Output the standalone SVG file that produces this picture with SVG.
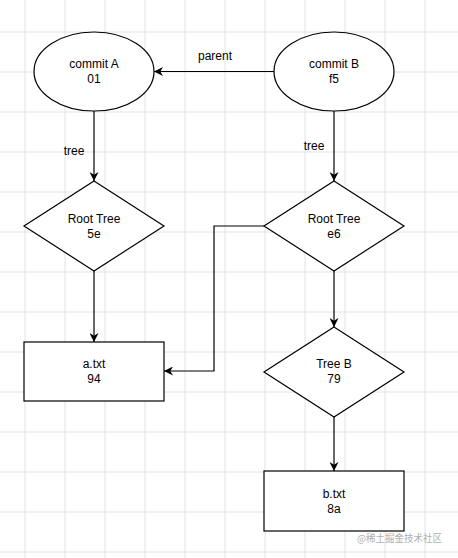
<svg xmlns="http://www.w3.org/2000/svg" width="458" height="558" viewBox="0 0 458 558">
<defs>
<style>
.grid line{stroke:#e2e2e2;stroke-width:1}
.node{fill:#fff;stroke:#000;stroke-width:1.2}
.lbl{font-family:"Liberation Sans",Arial,sans-serif;font-size:12px;fill:#000;text-anchor:middle}
.edge{fill:none;stroke:#000;stroke-width:1.2}
.wm{font-family:"Noto Sans CJK SC","Liberation Sans",sans-serif;font-size:10px;fill:#b0b0b0}
</style>
<marker id="arr" viewBox="0 0 10 10" refX="10" refY="5" markerWidth="9" markerHeight="9" markerUnits="userSpaceOnUse" orient="auto">
<path d="M0,0 L10,5 L0,10 L3,5 Z" fill="#000"/>
</marker>
</defs>
<rect width="458" height="558" fill="#fff"/>
<g class="grid">
<line x1="25" y1="0" x2="25" y2="558"/><line x1="65" y1="0" x2="65" y2="558"/><line x1="105" y1="0" x2="105" y2="558"/><line x1="145" y1="0" x2="145" y2="558"/><line x1="185" y1="0" x2="185" y2="558"/><line x1="225" y1="0" x2="225" y2="558"/><line x1="265" y1="0" x2="265" y2="558"/><line x1="305" y1="0" x2="305" y2="558"/><line x1="345" y1="0" x2="345" y2="558"/><line x1="385" y1="0" x2="385" y2="558"/><line x1="425" y1="0" x2="425" y2="558"/>
<line x1="0" y1="32" x2="458" y2="32"/><line x1="0" y1="72" x2="458" y2="72"/><line x1="0" y1="112" x2="458" y2="112"/><line x1="0" y1="152" x2="458" y2="152"/><line x1="0" y1="192" x2="458" y2="192"/><line x1="0" y1="232" x2="458" y2="232"/><line x1="0" y1="272" x2="458" y2="272"/><line x1="0" y1="312" x2="458" y2="312"/><line x1="0" y1="352" x2="458" y2="352"/><line x1="0" y1="392" x2="458" y2="392"/><line x1="0" y1="432" x2="458" y2="432"/><line x1="0" y1="472" x2="458" y2="472"/><line x1="0" y1="512" x2="458" y2="512"/><line x1="0" y1="552" x2="458" y2="552"/>
</g>
<g id="connectors">
<path class="edge" d="M274,71.5 L154,71.5" marker-end="url(#arr)"/>
<text class="lbl" x="215" y="60">parent</text>
<path class="edge" d="M94,111 L94,181" marker-end="url(#arr)"/>
<text class="lbl" x="74" y="155">tree</text>
<path class="edge" d="M334,111 L334,181" marker-end="url(#arr)"/>
<text class="lbl" x="314" y="150">tree</text>
<path class="edge" d="M94,271 L94,342" marker-end="url(#arr)"/>
<path class="edge" d="M264,226 L214,226 L214,371 L164,371" marker-end="url(#arr)"/>
<path class="edge" d="M334,271 L334,327" marker-end="url(#arr)"/>
<path class="edge" d="M334,416 L334,471" marker-end="url(#arr)"/>
</g>
<g id="commitA">
<ellipse class="node" cx="94" cy="71.5" rx="60" ry="39.5"/>
<text class="lbl" x="94" y="68">commit A</text>
<text class="lbl" x="94" y="83">01</text>
</g>
<g id="commitB">
<ellipse class="node" cx="334" cy="71.5" rx="60" ry="39.5"/>
<text class="lbl" x="334" y="68">commit B</text>
<text class="lbl" x="334" y="83">f5</text>
</g>
<g id="rootTreeA">
<polygon class="node" points="94,181 164,226 94,271 24,226"/>
<text class="lbl" x="94" y="223">Root Tree</text>
<text class="lbl" x="94" y="238">5e</text>
</g>
<g id="rootTreeB">
<polygon class="node" points="334,181 404,226 334,271 264,226"/>
<text class="lbl" x="334" y="223">Root Tree</text>
<text class="lbl" x="334" y="238">e6</text>
</g>
<g id="aTxt">
<rect class="node" x="24" y="342" width="140" height="59"/>
<text class="lbl" x="94" y="368">a.txt</text>
<text class="lbl" x="94" y="383">94</text>
</g>
<g id="treeB">
<polygon class="node" points="334,327 404,372 334,417 264,372"/>
<text class="lbl" x="334" y="368">Tree B</text>
<text class="lbl" x="334" y="383">79</text>
</g>
<g id="bTxt">
<rect class="node" x="264" y="471" width="140" height="60"/>
<text class="lbl" x="334" y="498">b.txt</text>
<text class="lbl" x="334" y="513">8a</text>
</g>
<text class="wm" x="357" y="542" textLength="85" lengthAdjust="spacingAndGlyphs">@稀土掘金技术社区</text>
</svg>
